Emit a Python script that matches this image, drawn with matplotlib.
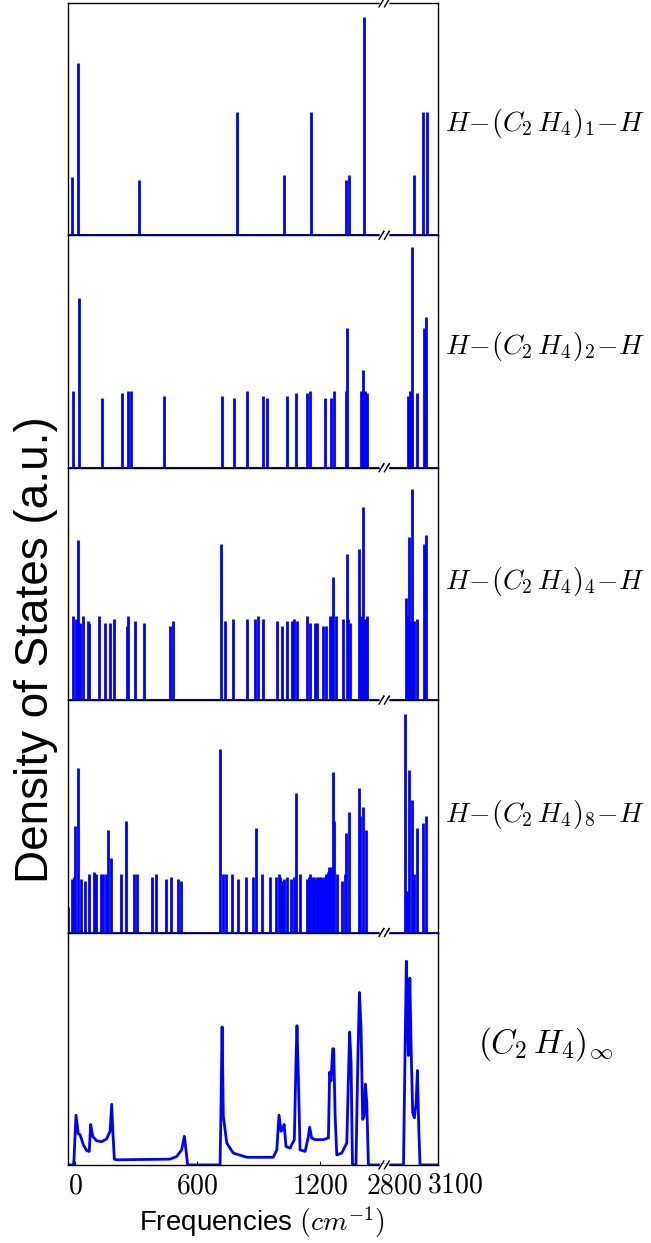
import numpy as np
import matplotlib
matplotlib.use('Agg')
import matplotlib.pyplot as plt

plt.rcParams['font.family'] = ['Liberation Sans', 'DejaVu Sans']
plt.rcParams['mathtext.fontset'] = 'cm'

# broken frequency axis: low part up to 1515, high part shifted down
BREAK_LOW = 1515
SHIFT = 1235

# ---- data (frequencies in cm^-1, DOS in a.u.) ----
n1_freq = [-16, 16, 315, 792, 1026, 1158, 1327, 1343, 1417, 2894, 2941, 2960]
n1_dos = [25, 74, 24, 53, 26, 53, 24, 26, 94, 26, 53, 53]

n2_freq = [-11, 21, 132, 232, 258, 273, 435, 721, 781, 845, 922, 941, 1039, 1083,
           1139, 1154, 1224, 1253, 1268, 1327, 1335, 1400, 1412, 1420, 1430,
           2868, 2877, 2889, 2910, 2943, 2956]
n2_dos = [33, 73, 30, 32, 33, 33, 31, 31, 30, 33, 31, 30, 31, 32,
          32, 33, 30, 30, 33, 33, 60, 33, 42, 33, 32,
          31, 33, 95, 32, 60, 65]

n4_freq = [-11, 3, 16, 26, 41, 64, 70, 119, 147, 172, 191, 253, 261, 296, 337,
           467, 480, 717, 734, 776, 842, 881, 899, 922, 989, 1015, 1039, 1065,
           1075, 1090, 1139, 1152, 1176, 1185, 1216, 1230, 1250, 1258, 1266,
           1278, 1314, 1332, 1340, 1347, 1392, 1402, 1410, 1422, 1430,
           2855, 2863, 2873, 2881, 2886, 2894, 2910, 2943, 2956]
n4_dos = [36, 35, 69, 33, 36, 34, 33, 36, 33, 33, 35, 32, 36, 34, 33,
          32, 34, 67, 34, 35, 35, 35, 36, 35, 34, 32, 34, 34,
          35, 34, 36, 33, 33, 33, 32, 32, 36, 36, 53,
          36, 35, 63, 35, 33, 65, 36, 83, 35, 36,
          44, 36, 70, 34, 91, 34, 35, 67, 71]

n8_freq = [-33, -15, -5, 2, 16, 31, 47, 69, 92, 101, 126, 137, 152, 163, 176,
           225, 252, 289, 302, 376, 399, 446, 472, 503, 518, 712, 724, 739, 770,
           801, 837, 874, 887, 917, 954, 985, 998, 1006, 1016, 1025, 1039, 1060,
           1074, 1083, 1105, 1139, 1147, 1154, 1162, 1170, 1178, 1187, 1196,
           1205, 1213, 1222, 1230, 1238, 1246, 1253, 1265, 1271, 1286, 1309,
           1322, 1328, 1342, 1391, 1399, 1410, 1428,
           2853, 2864, 2873, 2886, 2894, 2910, 2939, 2954]
n8_dos = [11, 23, 24, 46, 71, 23, 22, 25, 26, 25, 25, 25, 25, 44, 32,
          25, 48, 25, 25, 24, 25, 23, 24, 23, 22, 79, 25, 25, 25,
          23, 24, 24, 45, 25, 24, 24, 25, 24, 22, 23, 24, 23,
          24, 60, 25, 23, 24, 25, 24, 24, 23, 24, 24,
          24, 23, 24, 25, 26, 28, 28, 69, 48, 25, 22,
          25, 43, 52, 62, 50, 54, 44,
          94, 18, 70, 57, 25, 45, 47, 50]

# infinite chain: continuous DOS curve
inf_freq = [-38, -8, -5, 5, 16, 25, 41, 57, 70, 77, 87, 106, 131, 155, 172, 180,
            186, 193, 204, 466, 498, 523, 536, 544, 552, 711, 714, 721, 727, 744,
            776, 842, 972, 989, 1000, 1010, 1018, 1025, 1034, 1054, 1075, 1083,
            1088, 1095, 1103, 1128, 1144, 1150, 1160, 1176, 1217, 1242, 1248,
            1255, 1263, 1268, 1275, 1283, 1307, 1332, 1342, 1346, 1353, 1360,
            1377, 1386, 1394, 1402, 1410, 1417, 1423, 1430, 1438, 1515,
            2845, 2853, 2859, 2866, 2869, 2876, 2882, 2890, 2898, 2907, 2913,
            2920, 2926, 3013]
inf_dos = [0, 0, 2, 21.4, 13.5, 13, 8.7, 6.2, 5.8, 17.4, 12.3, 10.4, 10, 11.2, 14.5, 26.1,
           13.8, 2.5, 2.2, 2.5, 3.6, 6.5, 12.3, 6.5, 0, 0, 15.2, 59.4, 21, 9.4,
           5.1, 3.3, 3.3, 6.5, 21.4, 14.5, 15.2, 17.4, 8, 7.2, 10.9, 44.2,
           59.9, 37, 6.5, 5.8, 12.3, 16.2, 11.6, 10.9, 10.9, 11.6, 39.9,
           36.2, 50, 50, 21, 4.3, 5.1, 9.4, 44.2, 57.2, 44.2, 0,
           0, 44.2, 74.2, 58.7, 19.6, 21, 34.8, 26.8, 0, 0,
           0, 51.4, 87.7, 58.7, 47.1, 80.4, 51.4, 22.5, 20.3, 26.8, 40.6,
           15.2, 0, 0]

panels = [
    (n1_freq, n1_dos, r'$H\!-\!(C_2\,H_4)_1\!-\!H$', 'lines', 20, 0.48),
    (n2_freq, n2_dos, r'$H\!-\!(C_2\,H_4)_2\!-\!H$', 'lines', 20, 0.52),
    (n4_freq, n4_dos, r'$H\!-\!(C_2\,H_4)_4\!-\!H$', 'lines', 20, 0.51),
    (n8_freq, n8_dos, r'$H\!-\!(C_2\,H_4)_8\!-\!H$', 'lines', 20, 0.51),
    (inf_freq, inf_dos, r'$(C_2\,H_4)_\infty$', 'curve', 24, 0.52),
]


def to_axis(f):
    f = np.asarray(f, dtype=float)
    return np.where(f > 2000, f - SHIFT, f)


fig = plt.figure(figsize=(6.51, 12.43), dpi=100)
gs = fig.add_gridspec(5, 1, left=0.1045, right=0.6728, top=0.9976,
                      bottom=0.0628, hspace=0)

xmin, xmax = -34, 1779
for i, (freq, dos, label, kind, lsize, ly) in enumerate(panels):
    ax = fig.add_subplot(gs[i])
    u = to_axis(freq)
    if kind == 'lines':
        ax.vlines(u, 0, dos, colors='blue', lw=2.0)
        ax.plot([xmin, xmax], [0, 0], color='blue', lw=1.5, zorder=3)
    else:
        ax.plot(u, dos, color='blue', lw=2.0)
    ax.set_xlim(xmin, xmax)
    ax.set_ylim(0, 100)
    ax.set_yticks([])
    for s in ax.spines.values():
        s.set_linewidth(1.0)

    # break marks on top and bottom spines
    tr = ax.get_xaxis_transform()
    dx = 1.5 / 0.204
    for y in (0, 1):
        ax.plot([BREAK_LOW - 2 * dx, BREAK_LOW + 2 * dx], [y, y], color='white',
                lw=2.5, transform=tr, clip_on=False, zorder=5)
        for c in (BREAK_LOW - 1.8 * dx, BREAK_LOW + 1.8 * dx):
            ax.plot([c - 1.6 * dx, c + 1.6 * dx], [y - 0.017, y + 0.017],
                    color='black', lw=1.0, transform=tr, clip_on=False, zorder=6)

    ax.text(1.29, ly, label, transform=ax.transAxes, fontsize=lsize,
            ha='center', va='center')

    if i < len(panels) - 1:
        ax.set_xticks([])
    else:
        tick_f = [0, 600, 1200, 2800]
        ax.set_xticks(to_axis(tick_f))
        ax.set_xticklabels(['$%d$' % t for t in tick_f], fontsize=20)
        ax.tick_params(axis='x', direction='in', length=3, pad=6, top=False)
        for t in ax.xaxis.get_major_ticks()[3:]:
            t.tick1line.set_visible(False)
        # 3100 sits just beyond the right edge of the plot
        ax.text(to_axis([3100])[0], -0.034, '$3100$', transform=tr, fontsize=20,
                ha='center', va='top', clip_on=False)

fig.text(0.055, 0.477, 'Density of States (a.u.)', rotation=90, fontsize=33,
         ha='center', va='center')
fig.text(0.403, 0.017, r'Frequencies $(cm^{-1})$', fontsize=20,
         ha='center', va='center')

plt.savefig('out.png', dpi=100)
